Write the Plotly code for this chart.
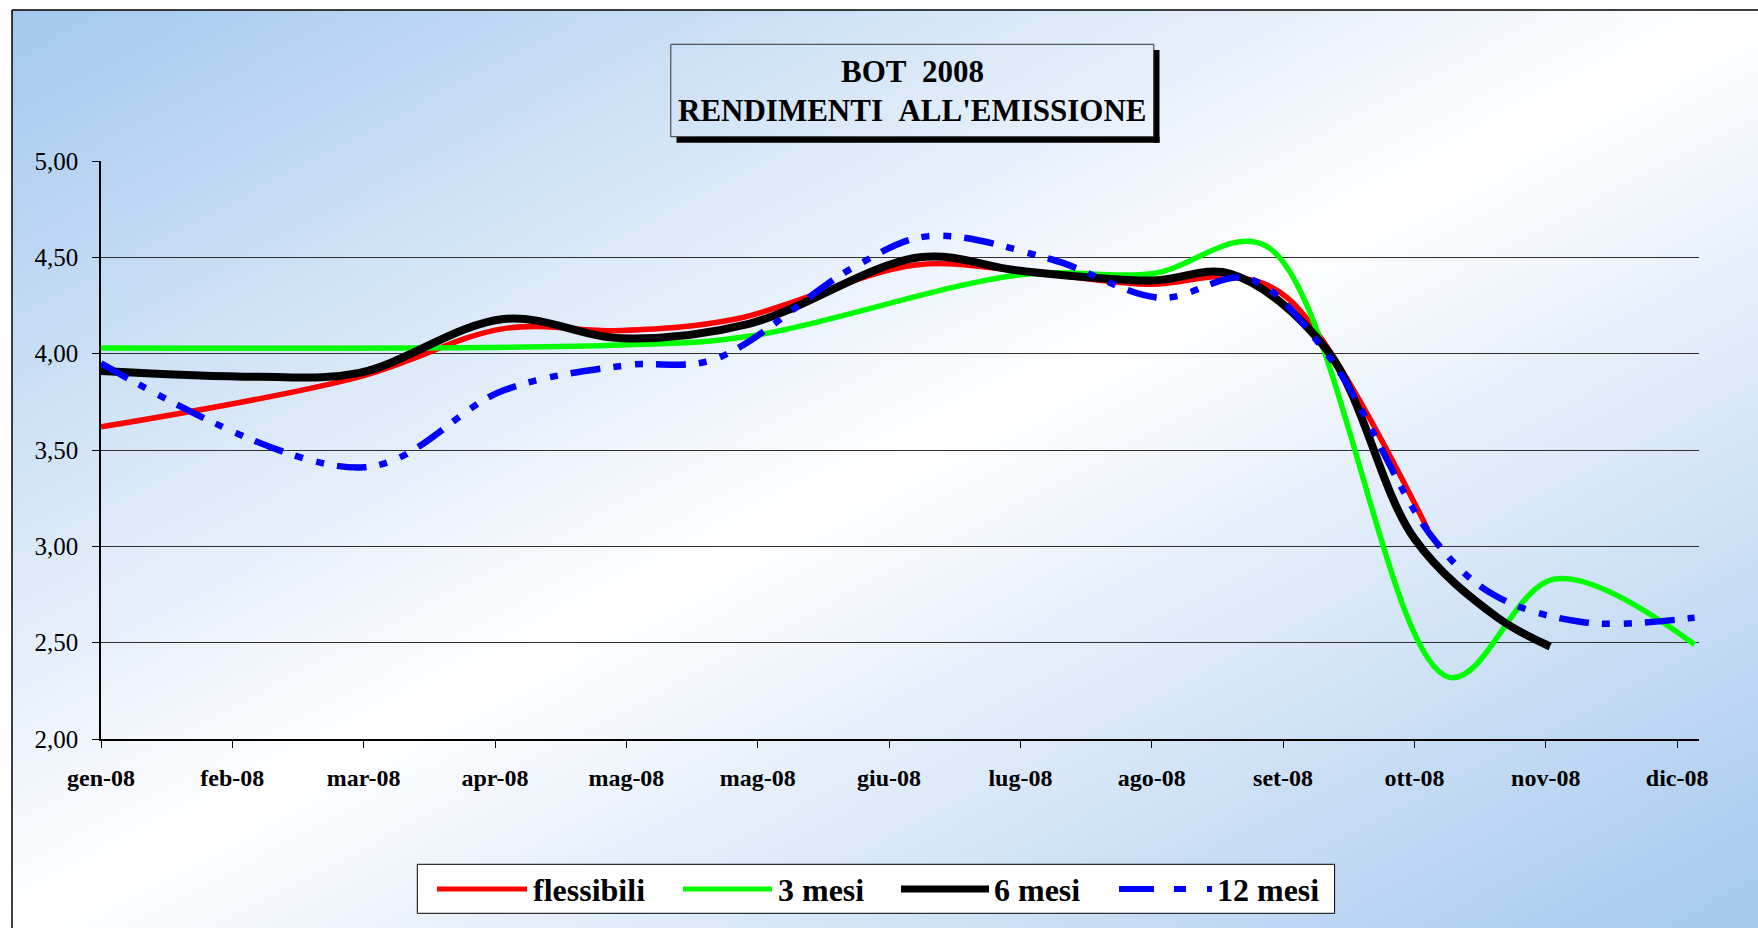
import base64
import plotly.graph_objects as go

# ---------------- data ----------------
tick_dates = ["2008-01-02", "2008-02-01", "2008-03-02", "2008-04-01", "2008-05-01",
              "2008-05-31", "2008-06-30", "2008-07-30", "2008-08-29", "2008-09-28",
              "2008-10-28", "2008-11-27", "2008-12-27"]
tick_labels = ["gen-08", "feb-08", "mar-08", "apr-08", "mag-08", "mag-08", "giu-08",
               "lug-08", "ago-08", "set-08", "ott-08", "nov-08", "dic-08"]

flex_dates = ["2008-01-02", "2008-03-01", "2008-04-03", "2008-04-30", "2008-05-26",
              "2008-07-06", "2008-07-30", "2008-08-29", "2008-09-16", "2008-09-29",
              "2008-10-31"]
flex_vals = [3.62, 3.88, 4.13, 4.12, 4.18, 4.46, 4.43, 4.36, 4.40, 4.29, 3.09]

m3_dates = ["2008-01-02", "2008-04-30", "2008-05-29", "2008-07-30", "2008-08-29",
            "2008-09-24", "2008-11-05", "2008-11-29", "2008-12-31"]
m3_vals = [4.03, 4.045, 4.09, 4.41, 4.415, 4.56, 2.32, 2.83, 2.49]

m6_dates = ["2008-01-02", "2008-02-07", "2008-03-01", "2008-04-03", "2008-04-30",
            "2008-05-29", "2008-07-07", "2008-07-30", "2008-08-29", "2008-09-16",
            "2008-10-08", "2008-10-28", "2008-11-16", "2008-11-28"]
m6_vals = [3.91, 3.88, 3.90, 4.18, 4.08, 4.155, 4.50, 4.43, 4.38, 4.415, 4.02, 3.04,
           2.63, 2.48]

m12_dates = ["2008-01-02", "2008-03-02", "2008-04-03", "2008-05-01", "2008-05-21",
             "2008-06-22", "2008-07-09", "2008-08-06", "2008-08-31", "2008-09-20",
             "2008-10-08", "2008-11-01", "2008-11-15", "2008-12-06", "2008-12-31"]
m12_vals = [3.95, 3.41, 3.81, 3.94, 3.97, 4.45, 4.61, 4.49, 4.29, 4.39, 4.00, 3.05,
            2.75, 2.605, 2.63]

series_names = ["flessibili", "3 mesi", "6 mesi", "12 mesi"]
title_lines = ["BOT\u00a0\u00a02008", "RENDIMENTI\u00a0\u00a0ALL'EMISSIONE"]

# ---------------- geometry helpers ----------------
W, H = 1758, 928
L, R, T, B = 101, 59, 161, 189
PW, PH = W - L - R, H - T - B


def px(x):
    return (x - L) / PW


def py(y):
    return (H - B - y) / PH


FONT = "Liberation Serif, Times New Roman, serif"

fig = go.Figure()

styles = [
    dict(color="#FF0000", width=5.5),
    dict(color="#00FF00", width=5.5),
    dict(color="#000000", width=8),
    dict(color="#0000FF", width=6.5, dash="30px,13px,8px,14px,8px,13px"),
]
for name, xs, ys, st in zip(series_names,
                            [flex_dates, m3_dates, m6_dates, m12_dates],
                            [flex_vals, m3_vals, m6_vals, m12_vals], styles):
    fig.add_trace(go.Scatter(x=xs, y=ys, name=name, mode="lines",
                             line=dict(shape="spline", smoothing=1.0, **st),
                             showlegend=False, hoverinfo="x+y"))

# background gradient
svg = ('<svg xmlns="http://www.w3.org/2000/svg" width="1746" height="918" '
       'preserveAspectRatio="none"><defs><linearGradient id="g" x1="0" y1="0" x2="1" y2="1">'
       '<stop offset="0" stop-color="#a4c8ee"/><stop offset="0.5" stop-color="#ffffff"/>'
       '<stop offset="1" stop-color="#a4c8ee"/></linearGradient></defs>'
       '<rect x="0" y="0" width="1746" height="918" fill="url(#g)"/></svg>')
src = "data:image/svg+xml;base64," + base64.b64encode(svg.encode()).decode()

images = [dict(source=src, xref="paper", yref="paper", x=px(12), y=py(10),
               sizex=(W - 12) / PW, sizey=(H - 10) / PH, sizing="stretch",
               xanchor="left", yanchor="top", layer="below")]

shapes = []
# outer border (top and left)
shapes.append(dict(type="line", xref="paper", yref="paper", x0=px(12), y0=py(10),
                   x1=px(W + 5), y1=py(10), line=dict(color="black", width=1.5)))
shapes.append(dict(type="line", xref="paper", yref="paper", x0=px(12), y0=py(10),
                   x1=px(12), y1=py(H + 5), line=dict(color="black", width=1.5)))
# title box shadow + box
shapes.append(dict(type="rect", xref="paper", yref="paper", x0=px(1153.5), y0=py(50),
                   x1=px(1159.5), y1=py(142.7), fillcolor="black", line=dict(width=0)))
shapes.append(dict(type="rect", xref="paper", yref="paper", x0=px(676.5), y0=py(136.7),
                   x1=px(1159.5), y1=py(142.7), fillcolor="black", line=dict(width=0)))
shapes.append(dict(type="rect", xref="paper", yref="paper", x0=px(670.8), y0=py(44.3),
                   x1=px(1153.8), y1=py(136.7), line=dict(color="#333333", width=1)))
# legend box
shapes.append(dict(type="rect", xref="paper", yref="paper", x0=px(417.3), y0=py(864.3),
                   x1=px(1334.6), y1=py(913.3), fillcolor="white",
                   line=dict(color="black", width=1)))

leg_lines = [(437, 527), (683, 772), (901, 989), (1119, 1212)]
leg_text_x = [531, 776, 992, 1215]
leg_styles = [
    dict(color="#FF0000", width=5),
    dict(color="#00FF00", width=5),
    dict(color="#000000", width=7),
    dict(color="#0000FF", width=6, dash="35px,20px,12px,21px,5px,20px"),
]
annotations = []
for (x0, x1), tx, st, name in zip(leg_lines, leg_text_x, leg_styles, series_names):
    shapes.append(dict(type="line", xref="paper", yref="paper", x0=px(x0), y0=py(889),
                       x1=px(x1), y1=py(889), line=st))
    annotations.append(dict(text="<b>%s</b>" % name, xref="paper", yref="paper",
                            x=px(tx), y=py(890), xanchor="left", yanchor="middle",
                            showarrow=False, font=dict(family=FONT, size=32, color="black")))

for line, yc in zip(title_lines, [71.2, 110.2]):
    annotations.append(dict(text="<b>%s</b>" % line, xref="paper", yref="paper",
                            x=px(912.3), y=py(yc), xanchor="center", yanchor="middle",
                            showarrow=False, font=dict(family=FONT, size=31, color="black")))

fig.update_layout(
    width=W, height=H,
    margin=dict(l=L, r=R, t=T, b=B, pad=0),
    paper_bgcolor="white",
    plot_bgcolor="rgba(0,0,0,0)",
    separators=",.",
    images=images,
    shapes=shapes,
    annotations=annotations,
    showlegend=False,
    xaxis=dict(type="date", range=["2008-01-02", "2009-01-01"],
               tickvals=tick_dates, ticktext=tick_labels,
               ticks="outside", ticklen=7, tickcolor="black", tickwidth=1,
               showline=True, linecolor="black", linewidth=1.5,
               showgrid=False, zeroline=False,
               tickfont=dict(family=FONT, size=24, color="black", weight="bold"),
               ticklabelstandoff=9),
    yaxis=dict(range=[2, 5], dtick=0.5, tick0=2, tickformat=".2f",
               ticks="outside", ticklen=7, tickcolor="black", tickwidth=1,
               showline=True, linecolor="black", linewidth=1.5,
               showgrid=True, gridcolor="#303030", gridwidth=1, zeroline=False,
               tickfont=dict(family=FONT, size=25, color="black"),
               ticklabelstandoff=9),
)

fig.write_html("out.html", include_plotlyjs=True, full_html=True,
               config={"displayModeBar": False},
               post_script="document.body.style.margin='0';document.body.style.overflow='hidden';")
